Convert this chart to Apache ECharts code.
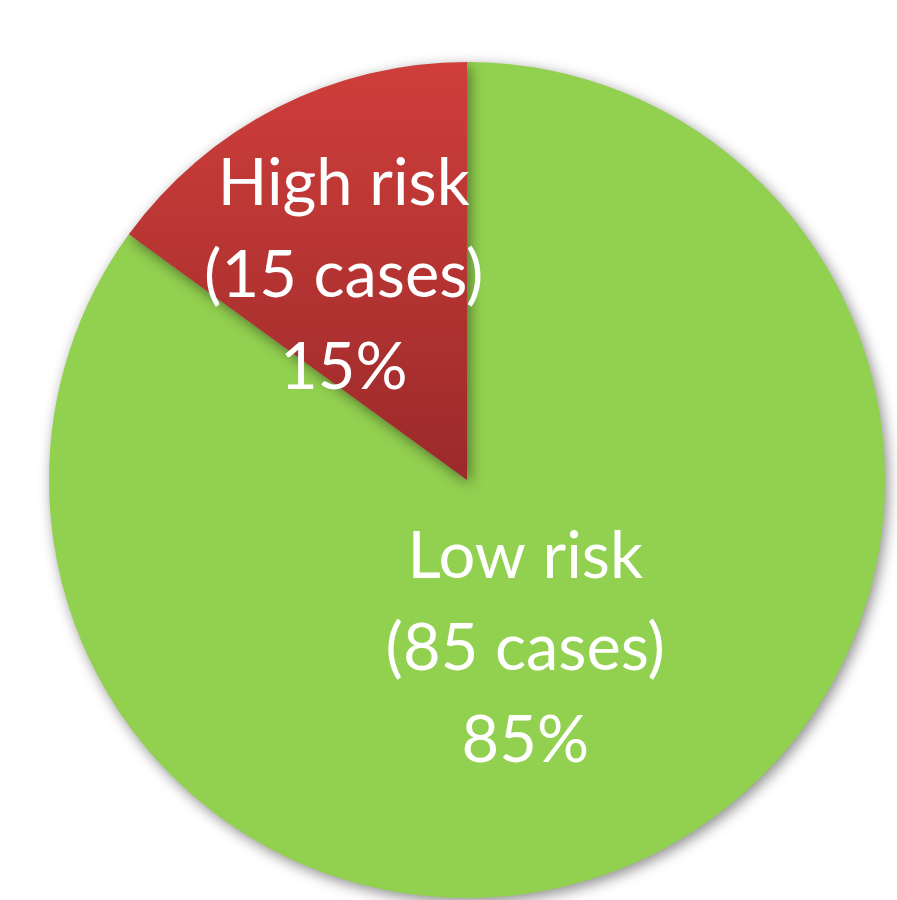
<!DOCTYPE html>
<html>
<head>
<meta charset="utf-8">
<script src="https://cdn.jsdelivr.net/npm/echarts@6/dist/echarts.min.js"></script>
<style>
  html, body { margin: 0; padding: 0; background: #ffffff; }
  #chart { width: 897px; height: 900px; }
</style>
</head>
<body>
<div id="chart"></div>
<script>
// Risk split of the cases
const categories = ['Low risk', 'High risk'];
const caseCounts = [85, 15];
const percents = [85, 15];

const chart = echarts.init(document.getElementById('chart'), null, { renderer: 'canvas' });

const sliceStyles = [
  { color: '#92d050' },
  {
    color: {
      type: 'linear', global: true,
      x: 0, y: 62, x2: 0, y2: 480,
      colorStops: [
        { offset: 0, color: '#cf3e3b' },
        { offset: 1, color: '#9b2a2a' }
      ]
    }
  }
];
const labelOffsets = [[-38, -20], [-27, -15]];

const data = categories.map((name, i) => ({
  name: name,
  value: caseCounts[i],
  pct: percents[i],
  itemStyle: sliceStyles[i],
  label: { offset: labelOffsets[i] }
}));

chart.setOption({
  animation: false,
  series: [{
    type: 'pie',
    center: [467, 480],
    radius: 418,
    startAngle: 90,
    clockwise: true,
    data: data,
    itemStyle: {
      borderWidth: 0,
      shadowBlur: 14,
      shadowColor: 'rgba(0,0,0,0.45)',
      shadowOffsetX: 3,
      shadowOffsetY: 4
    },
    label: {
      show: true,
      position: 'inside',
      color: '#ffffff',
      fontFamily: 'Lato',
      fontSize: 65,
      lineHeight: 92,
      align: 'center',
      formatter: p => p.name + '\n(' + p.value + ' cases)\n' + p.data.pct + '%'
    },
    labelLine: { show: false },
    emphasis: { disabled: true }
  }]
});
</script>
</body>
</html>
